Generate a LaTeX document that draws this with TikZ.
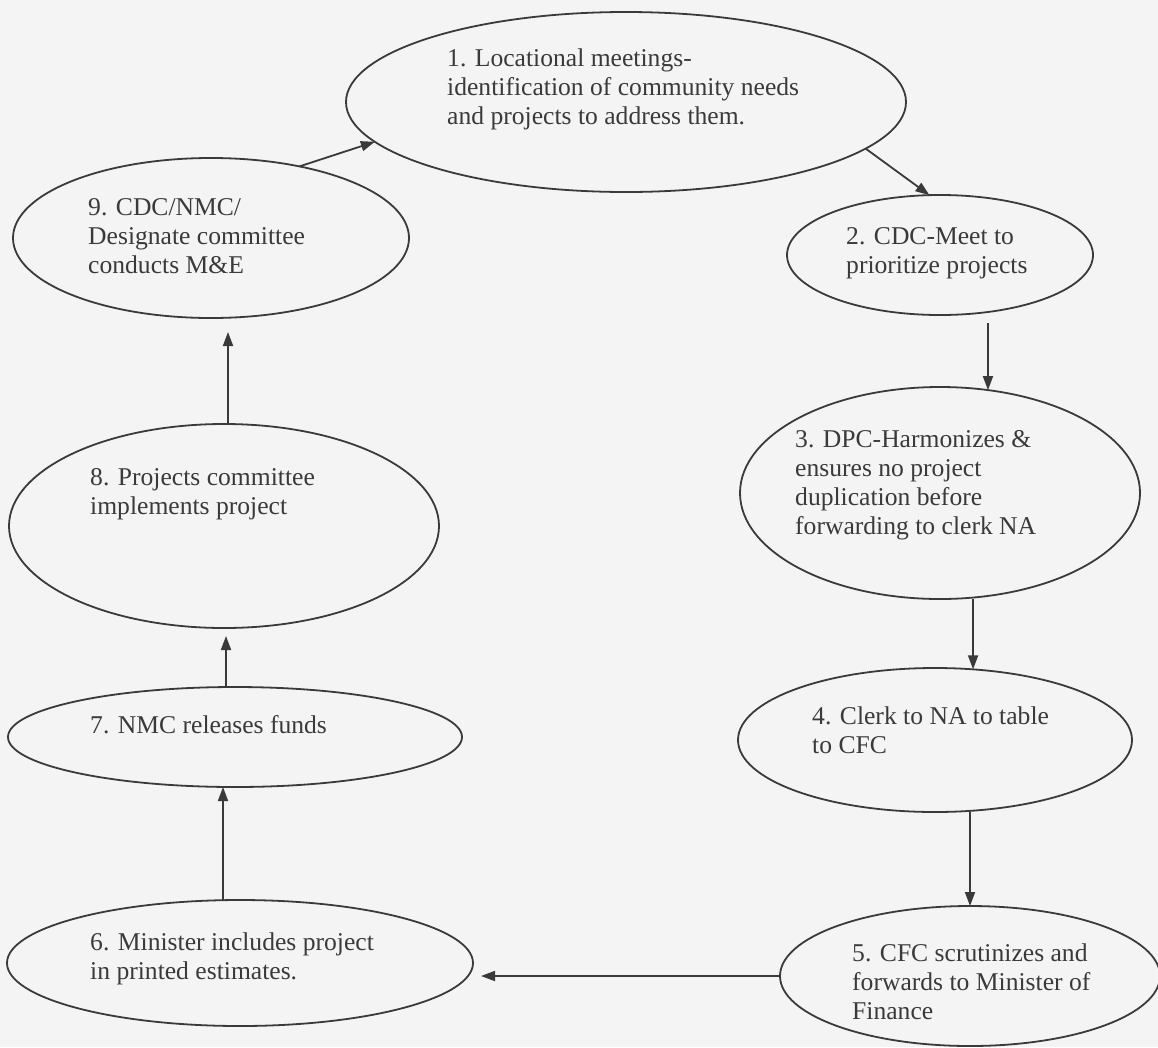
\documentclass[tikz,border=0pt]{standalone}
\usepackage{fontspec}
\setmainfont{Liberation Serif}
\usetikzlibrary{shapes.geometric,arrows.meta,calc}
\definecolor{ink}{HTML}{3A3A3A}
\definecolor{paper}{HTML}{F4F4F4}
\begin{document}
\begin{tikzpicture}[x=1pt,y=-1pt,
  bub/.style={ellipse,draw=ink,line width=1.8pt,inner sep=0pt,outer sep=0pt},
  txt/.style={anchor=west,align=left,inner sep=0pt,text=ink,font=\fontsize{25.6}{29}\selectfont},
  arr/.style={draw=ink,line width=1.8pt,-{Triangle[length=14pt,width=10pt]}}]
\fill[paper] (0,0) rectangle (1158,1047);
\useasboundingbox (0,0) rectangle (1158,1047);
% ellipses
\node[bub,minimum width=560pt,minimum height=180pt] (n1) at (626,102) {};
\node[bub,minimum width=306pt,minimum height=120pt] (n2) at (940,255) {};
\node[bub,minimum width=400pt,minimum height=212pt] (n3) at (940,493) {};
\node[bub,minimum width=394pt,minimum height=144pt] (n4) at (935,740) {};
\node[bub,minimum width=380pt,minimum height=140pt] (n5) at (970,976) {};
\node[bub,minimum width=466pt,minimum height=126pt] (n6) at (240,963) {};
\node[bub,minimum width=454pt,minimum height=100pt] (n7) at (235,737) {};
\node[bub,minimum width=430pt,minimum height=204pt] (n8) at (224,526) {};
\node[bub,minimum width=396pt,minimum height=160pt] (n9) at (211,238) {};
% texts
\node[txt] (t1) at (447,89) {1. Locational meetings-\\identification of community needs\\and projects to address them.};
\node[txt] (t2) at (846,253) {2. CDC-Meet to\\prioritize projects};
\node[txt] (t3) at (795,485) {3. DPC-Harmonizes \&\\ensures no project\\duplication before\\forwarding to clerk NA};
\node[txt] (t4) at (812,730) {4. Clerk to NA to table\\to CFC};
\node[txt] (t5) at (852,982) {5. CFC scrutinizes and\\forwards to Minister of\\Finance};
\node[txt] (t6) at (90,959) {6. Minister includes project\\in printed estimates.};
\node[txt] (t7) at (90,725) {7. NMC releases funds};
\node[txt] (t8) at (90,494) {8. Projects committee\\implements project};
\node[txt] (t9) at (88,236) {9. CDC/NMC/\\Designate committee\\conducts M\&E};
% connectors
\draw[arr] (n9.39) -- (n1.189);
\draw[arr] (n1.-11) -- (n2.100);
\draw[arr] ($(n3.65 |- n2.south)+(0,8)$) -- (n3.65);
\draw[arr] ($(n4.62 |- n3.south)+(0.5,0)$) -- ($(n4.62)+(0.5,0)$);
\draw[arr] (n5.north |- n4.south) -- (n5.north);
\draw[arr] (n5.west) -- ($(n6.east |- n5.west)+(8,0)$);
\draw[arr] ($(n7.south |- n6.north)+(-12,0)$) -- ($(n7.south)+(-12,0)$);
\draw[arr] ($(n8.south |- n7.north)+(2,0)$) -- ($(n8.south)+(2,8)$);
\draw[arr] ($(n9.south |- n8.north)+(17,0)$) -- ($(n9.south)+(17,14)$);
\end{tikzpicture}
\end{document}
